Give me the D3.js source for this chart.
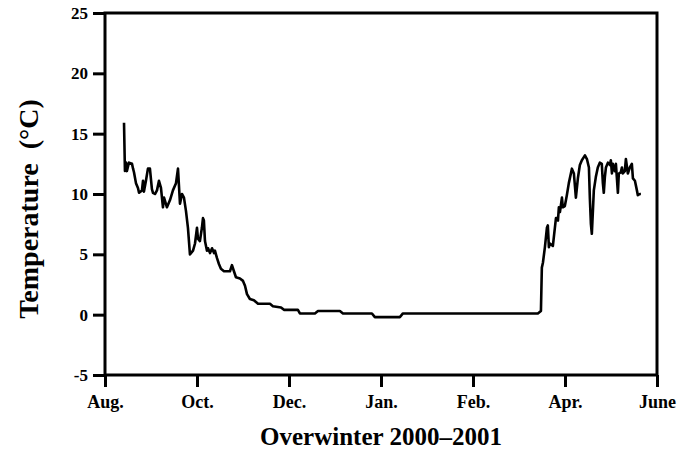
<!DOCTYPE html>
<html>
<head>
<meta charset="utf-8">
<script src="https://cdn.jsdelivr.net/npm/d3@7"></script>
<style>
  body { margin: 0; background: #fff; }
  text { font-family: "Liberation Serif", "Times New Roman", serif; font-weight: bold; fill: #000; }
</style>
</head>
<body>
<div id="chart"></div>
<script>
// Data: day since start of Aug. and temperature (deg C)
var days = [12.4, 13.0, 13.7, 14.3, 15.6, 17.6, 18.3, 18.9, 20.2, 21.5, 22.2, 24.1, 24.8, 25.4, 26.7, 28.0, 29.3,
  30.6, 31.3, 32.6, 33.9, 35.2, 36.5, 37.8, 38.5, 40.4, 42.4, 44.3, 46.3, 47.6, 48.9, 50.2, 51.5, 52.8, 54.1,
  55.4, 57.4, 58.7, 60.0, 60.6, 61.9, 63.2, 63.9, 64.5, 65.2, 66.5, 67.2, 68.5, 69.8, 71.1, 71.7, 73.0, 74.3,
  75.6, 77.6, 81.5, 82.8, 84.1, 85.4, 88.0, 90.0, 91.3, 92.6, 94.5, 97.1, 99.8, 107.6, 109.5, 114.8, 116.7,
  125.8, 127.1, 136.9, 138.9, 153.2, 155.2, 174.1, 176.0, 192.3, 194.3, 282.3, 284.3, 284.9, 285.6, 286.9,
  288.2, 288.8, 289.5, 290.1, 292.1, 294.1, 294.7, 295.4, 296.0, 296.7, 298.0, 298.6, 299.9, 301.2, 302.5,
  304.5, 305.8, 307.1, 308.4, 309.7, 311.0, 313.0, 314.3, 315.6, 316.2, 316.9, 317.5, 318.2, 318.8, 320.1,
  321.4, 322.7, 324.0, 324.7, 325.3, 326.0, 326.7, 328.0, 329.3, 329.9, 330.6, 331.2, 332.5, 333.2, 333.8,
  334.5, 335.1, 336.4, 337.1, 337.7, 339.0, 339.7, 341.0, 342.3, 343.6, 344.3, 345.6, 346.9, 347.5, 348.8, 349.5];
var temps = [15.9, 11.9, 12.6, 11.9, 12.6, 12.5, 12.1, 11.8, 10.9, 10.5, 10.1, 10.3, 11.1, 10.2, 11.1, 12.1, 12.1,
  10.4, 10.1, 10.0, 10.3, 11.1, 10.5, 8.9, 9.7, 8.9, 9.5, 10.3, 10.9, 12.1, 9.2, 10.0, 9.7, 8.6, 7.2,
  5.0, 5.3, 5.9, 7.2, 6.3, 6.1, 7.2, 8.0, 7.8, 6.1, 5.3, 5.5, 5.1, 5.5, 5.1, 5.3, 4.7, 4.2,
  3.8, 3.6, 3.6, 4.1, 3.6, 3.1, 3.0, 2.8, 2.4, 1.7, 1.3, 1.2, 0.9, 0.9, 0.7, 0.6, 0.4,
  0.4, 0.1, 0.1, 0.3, 0.3, 0.1, 0.1, -0.2, -0.2, 0.1, 0.1, 0.3, 3.9, 4.3, 5.6,
  7.2, 7.4, 5.6, 5.9, 5.7, 8.0, 8.0, 7.8, 8.9, 8.5, 9.7, 8.9, 9.0, 9.9, 10.9,
  12.1, 11.7, 9.7, 11.3, 12.4, 12.8, 13.2, 12.9, 12.2, 9.7, 7.5, 6.7, 8.6, 10.3, 11.4,
  12.2, 12.6, 12.5, 10.9, 10.1, 11.4, 12.2, 12.6, 12.4, 12.8, 11.7, 12.5, 11.9, 12.5, 11.4,
  10.1, 11.7, 11.8, 12.2, 11.7, 11.9, 12.9, 11.7, 12.2, 12.5, 11.3, 11.1, 10.3, 9.9, 10.0, 10.0];
var xTickDays = [0, 60, 120, 180, 240, 300, 360];
var xTickLabels = ["Aug.", "Oct.", "Dec.", "Jan.", "Feb.", "Apr.", "June"];
var yTicks = [-5, 0, 5, 10, 15, 20, 25];

var W = 689, H = 449;
var MARGIN = { top: 13, right: 32, bottom: 74, left: 105 };
var width = W - MARGIN.left - MARGIN.right,
  height = H - MARGIN.top - MARGIN.bottom;

var svg = d3.select("#chart").append("svg")
  .attr("width", W)
  .attr("height", H);

var g = svg.append("g")
  .attr("transform", "translate(" + MARGIN.left + "," + MARGIN.top + ")");

var x = d3.scaleLinear().domain([0, 360]).range([0, width]);
var y = d3.scaleLinear().domain([-5, 25]).range([height, 0]);

// y axis
var yAxis = g.append("g")
  .call(d3.axisLeft(y).tickValues(yTicks).tickSize(12).tickPadding(5)
    .tickFormat(function(d) { return String(d); }));
yAxis.select(".domain").remove();
yAxis.selectAll("line").attr("stroke", "#000").attr("stroke-width", 3);
yAxis.selectAll("text").style("font-size", "17px").attr("fill", "#000");

// x axis
var xAxis = g.append("g")
  .attr("transform", "translate(0," + height + ")")
  .call(d3.axisBottom(x).tickValues(xTickDays).tickSize(12).tickPadding(8)
    .tickFormat(function(d, i) { return xTickLabels[i]; }));
xAxis.select(".domain").remove();
xAxis.selectAll("line").attr("stroke", "#000").attr("stroke-width", 3);
xAxis.selectAll("text").style("font-size", "18px").attr("fill", "#000");

// frame
g.append("rect")
  .attr("width", width)
  .attr("height", height)
  .attr("fill", "none")
  .attr("stroke", "#000")
  .attr("stroke-width", 3);

// temperature line
var pts = days.map(function(d, i) { return [d, temps[i]]; });
g.append("path")
  .datum(pts)
  .attr("fill", "none")
  .attr("stroke", "#000")
  .attr("stroke-width", 2.6)
  .attr("stroke-linejoin", "round")
  .attr("d", d3.line().x(function(d) { return x(d[0]); }).y(function(d) { return y(d[1]); }));

// axis titles
svg.append("text")
  .attr("x", MARGIN.left + width / 2)
  .attr("y", 445)
  .attr("text-anchor", "middle")
  .attr("fill", "#000")
  .style("font-size", "25px")
  .text("Overwinter 2000\u20132001");

svg.append("text")
  .attr("transform", "translate(38,209) rotate(-90)")
  .attr("text-anchor", "middle")
  .attr("fill", "#000")
  .style("font-size", "28px")
  .style("white-space", "pre")
  .text("Temperature  (\u00B0C)");
</script>
</body>
</html>
